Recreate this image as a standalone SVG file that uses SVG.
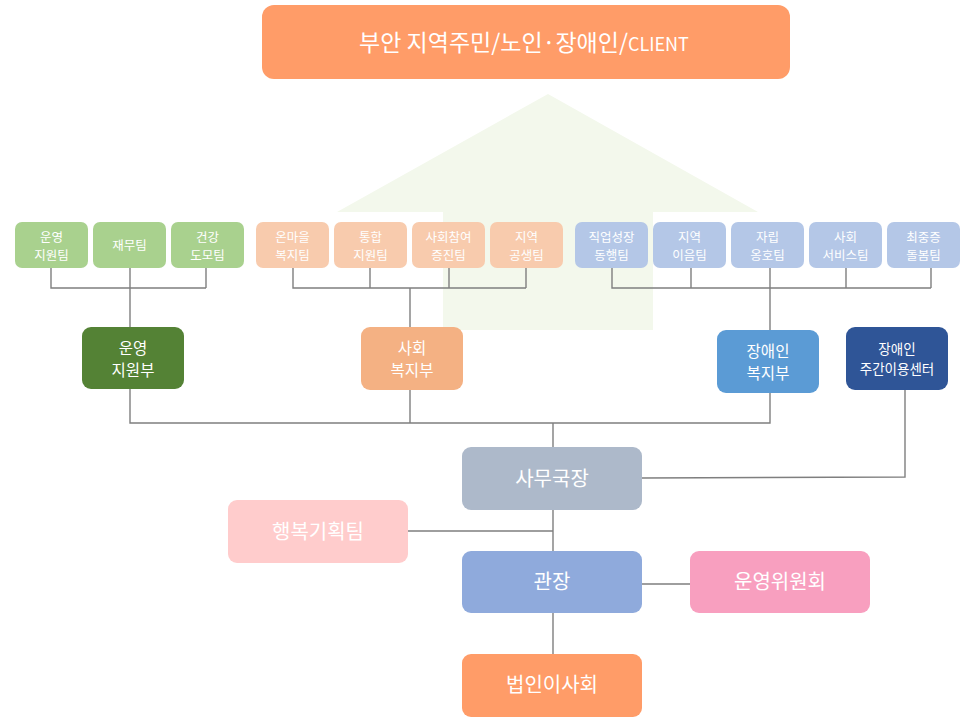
<svg xmlns="http://www.w3.org/2000/svg" width="960" height="720" viewBox="0 0 960 720">
<style>
text{font-family:"Noto Sans CJK KR","Noto Sans",sans-serif;fill:#fff;text-anchor:middle}
.t{font-size:12.5px}
.d{font-size:15.5px}
.b{font-size:20px}
.ln{stroke:#7f7f7f;stroke-width:1.4;fill:none}
.g{fill:#a9d18e}.p{fill:#f8cbad}.u{fill:#b4c7e7}
</style>
<rect width="960" height="720" fill="#fff"/>
<polygon points="548,94 337,212 443,212 443,330 653,330 653,212 758,212" fill="#f3f8ec"/>
<g id="client"><rect x="262" y="5" width="528" height="74" rx="12" fill="#ff9c68"/><text x="524" y="51" font-size="23">부안 지역주민/노인·장애인/<tspan font-size="18">CLIENT</tspan></text></g>
<g id="connectors" class="ln">
<path d="M51,268V288H206M130,268V327M206,268V288"/>
<path d="M293,268V288H526M370,268V288M449,268V288M526,268V288M410,288V327"/>
<path d="M612,268V288H931M691,268V288M770,268V330M846,268V288M931,268V288"/>
<path d="M130,389V423H770V393M410,390V423M553,423V447"/>
<path d="M905,390V477L642,478"/>
<path d="M553,510V551M408,531H553"/>
<path d="M553,613V654M642,584H690"/>
</g>
<g id="team1"><rect class="g" x="15" y="222" width="73" height="46" rx="7"/><text class="t" x="51.5" y="242">운영<tspan x="51.5" dy="18">지원팀</tspan></text></g>
<g id="team2"><rect class="g" x="93" y="222" width="73" height="46" rx="7"/><text class="t" x="129.5" y="250">재무팀</text></g>
<g id="team3"><rect class="g" x="171" y="222" width="73" height="46" rx="7"/><text class="t" x="207.5" y="242">건강<tspan x="207.5" dy="18">도모팀</tspan></text></g>
<g id="team4"><rect class="p" x="256" y="222" width="73" height="46" rx="7"/><text class="t" x="292.5" y="242">온마을<tspan x="292.5" dy="18">복지팀</tspan></text></g>
<g id="team5"><rect class="p" x="334" y="222" width="73" height="46" rx="7"/><text class="t" x="370.5" y="242">통합<tspan x="370.5" dy="18">지원팀</tspan></text></g>
<g id="team6"><rect class="p" x="412" y="222" width="73" height="46" rx="7"/><text class="t" x="448.5" y="242">사회참여<tspan x="448.5" dy="18">증진팀</tspan></text></g>
<g id="team7"><rect class="p" x="490" y="222" width="73" height="46" rx="7"/><text class="t" x="526.5" y="242">지역<tspan x="526.5" dy="18">공생팀</tspan></text></g>
<g id="team8"><rect class="u" x="575" y="222" width="73" height="46" rx="7"/><text class="t" x="611.5" y="242">직업성장<tspan x="611.5" dy="18">동행팀</tspan></text></g>
<g id="team9"><rect class="u" x="653" y="222" width="73" height="46" rx="7"/><text class="t" x="689.5" y="242">지역<tspan x="689.5" dy="18">이음팀</tspan></text></g>
<g id="team10"><rect class="u" x="731" y="222" width="73" height="46" rx="7"/><text class="t" x="767.5" y="242">자립<tspan x="767.5" dy="18">옹호팀</tspan></text></g>
<g id="team11"><rect class="u" x="809" y="222" width="73" height="46" rx="7"/><text class="t" x="845.5" y="242">사회<tspan x="845.5" dy="18">서비스팀</tspan></text></g>
<g id="team12"><rect class="u" x="887" y="222" width="73" height="46" rx="7"/><text class="t" x="923.5" y="242">최중증<tspan x="923.5" dy="18">돌봄팀</tspan></text></g>
<g id="dept1"><rect x="82" y="327" width="102" height="62" rx="9" fill="#548235"/><text class="d" x="133" y="354">운영<tspan x="133" dy="22">지원부</tspan></text></g>
<g id="dept2"><rect x="361" y="327" width="102" height="63" rx="9" fill="#f4b183"/><text class="d" x="412" y="354">사회<tspan x="412" dy="22">복지부</tspan></text></g>
<g id="dept3"><rect x="717" y="330" width="102" height="63" rx="9" fill="#5b9bd5"/><text class="d" x="768" y="357">장애인<tspan x="768" dy="22">복지부</tspan></text></g>
<g id="dept4"><rect x="846" y="327" width="102" height="63" rx="9" fill="#2f5597"/><text x="897" y="354" font-size="13.5">장애인<tspan x="897" dy="20">주간이용센터</tspan></text></g>
<g id="samu"><rect x="462" y="447" width="180" height="63" rx="9" fill="#adb9ca"/><text class="b" x="552" y="486">사무국장</text></g>
<g id="happy"><rect x="228" y="500" width="180" height="63" rx="9" fill="#ffcccc"/><text class="b" x="318" y="539">행복기획팀</text></g>
<g id="director"><rect x="462" y="551" width="180" height="62" rx="9" fill="#8faadc"/><text class="b" x="552" y="589">관장</text></g>
<g id="committee"><rect x="690" y="551" width="180" height="62" rx="9" fill="#f89fbf"/><text class="b" x="780" y="589">운영위원회</text></g>
<g id="board"><rect x="462" y="654" width="180" height="63" rx="9" fill="#ff9c68"/><text class="b" x="552" y="692">법인이사회</text></g>
</svg>
